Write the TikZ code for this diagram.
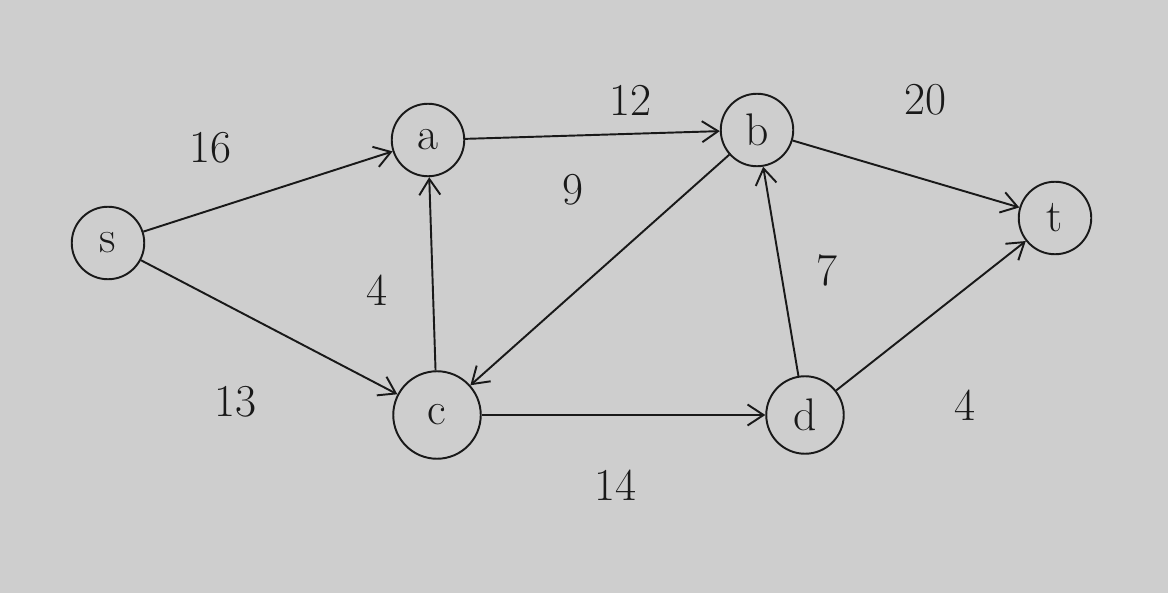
\documentclass[tikz,border=0pt]{standalone}
\usepackage{tikz}
\usetikzlibrary{positioning,arrows.meta,shapes.geometric,calc,backgrounds}
\usepackage{xcolor}
\definecolor{paper}{RGB}{206,206,206}
\definecolor{pencil}{RGB}{25,25,25}

\begin{document}
\begin{tikzpicture}[
  vtx/.style={circle,draw=pencil,line width=1.1pt,text=pencil,
              minimum size=1.45cm,inner sep=0pt,font=\fontsize{26}{30}\selectfont},
  flow/.style={draw=pencil,line width=1.1pt,-{Straight Barb[length=3.2mm,width=4.2mm]}},
  capnum/.style={text=pencil,font=\fontsize{26}{30}\selectfont}
]
% paper
\fill[paper] (0,0) rectangle (23.36,11.86);
\useasboundingbox (0,0) rectangle (23.36,11.86);

% vertices
\node[vtx] (s) at (2.16,7.0) {s};
\node[vtx] (a) at (8.56,9.06) {a};
\node[vtx] (b) at (15.14,9.26) {b};
\node[vtx] (t) at (21.1,7.5) {t};
\node[vtx,minimum size=1.75cm] (c) at (8.74,3.56) {c};
\node[vtx,minimum size=1.55cm] (d) at (16.1,3.56) {d};

% edges
\draw[flow] (s) -- (a);
\draw[flow] (s) -- (c);
\draw[flow] (c) -- (a);
\draw[flow] (a) -- (b);
\draw[flow] (b) -- (c);
\draw[flow] (b) -- (t);
\draw[flow] (d) -- (b);
\draw[flow] (c) -- (d);
\draw[flow] (d) -- (t);

% capacities
\node[capnum] (l16) at (4.2,8.9) {16};
\node[capnum] (l12) at (12.6,9.86) {12};
\node[capnum] (l20) at (18.5,9.86) {20};
\node[capnum] (l9) at (11.46,8.06) {9};
\node[capnum] (l4a) at (7.54,6.06) {4};
\node[capnum] (l7) at (16.54,6.46) {7};
\node[capnum] (l13) at (4.7,3.82) {13};
\node[capnum] (l14) at (12.3,2.16) {14};
\node[capnum] (l4t) at (19.3,3.76) {4};
\end{tikzpicture}
\end{document}
